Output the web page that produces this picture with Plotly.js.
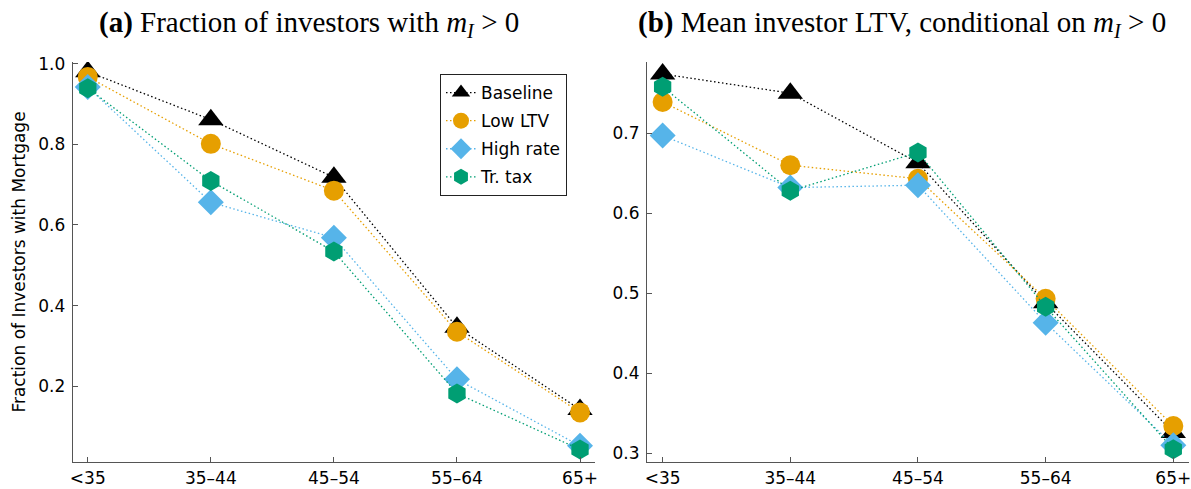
<!DOCTYPE html>
<html>
<head>
<meta charset="utf-8">
<script src="https://cdn.plot.ly/plotly-3.0.1.min.js"></script>
<style>html,body{margin:0;padding:0;background:#fff;}#chart{width:1191px;height:489px;}</style>
</head>
<body>
<div id="chart"></div>
<script>
// Categories (age groups)
const ageGroups = ["<35", "35–44", "45–54", "55–64", "65+"];

// Panel (a): Fraction of investors with mortgage
const fracBaseline = [0.980, 0.861, 0.718, 0.346, 0.142];
const fracLowLTV   = [0.967, 0.801, 0.685, 0.335, 0.135];
const fracHighRate = [0.942, 0.656, 0.568, 0.217, 0.052];
const fracTrTax    = [0.939, 0.709, 0.534, 0.182, 0.043];

// Panel (b): Mean investor LTV, conditional on m_I > 0
const ltvBaseline = [0.774, 0.750, 0.663, 0.488, 0.326];
const ltvLowLTV   = [0.739, 0.660, 0.643, 0.493, 0.334];
const ltvHighRate = [0.697, 0.632, 0.635, 0.463, 0.310];
const ltvTrTax    = [0.758, 0.628, 0.676, 0.483, 0.305];

const seriesNames = ["Baseline", "Low LTV", "High rate", "Tr. tax"];
const seriesColors = ["#000000", "#E69F00", "#56B4E9", "#009E73"];
const seriesSymbols = ["triangle-up", "circle", "diamond", "hexagon"];
const seriesSizes = [22, 20, 20, 20];

const fracData = [fracBaseline, fracLowLTV, fracHighRate, fracTrTax];
const ltvData = [ltvBaseline, ltvLowLTV, ltvHighRate, ltvTrTax];

const traces = [];
function addPanel(dataArr, xa, ya, showLegend) {
  dataArr.forEach((vals, i) => {
    traces.push({
      type: "scatter", mode: "lines+markers",
      x: ageGroups, y: vals, xaxis: xa, yaxis: ya,
      name: seriesNames[i], showlegend: showLegend, legendgroup: "g" + i,
      line: {color: seriesColors[i], dash: "1.5px,2.5px", width: 1.3},
      marker: {color: seriesColors[i], symbol: seriesSymbols[i], size: seriesSizes[i], line: {width: 0}},
      hoverinfo: "skip"
    });
  });
}
addPanel(fracData, "x", "y", true);
addPanel(ltvData, "x2", "y2", false);

const tickFont = "DejaVu Sans";
const axisCommon = {
  showgrid: false, zeroline: false, showline: true,
  linecolor: "rgb(85,85,85)", linewidth: 1.3,
  ticks: "inside", ticklen: 5, tickwidth: 1, tickcolor: "rgb(85,85,85)",
  tickfont: {family: tickFont, size: 17, color: "#000"},
  mirror: false, fixedrange: true
};
const yAxisExtra = {ticklabelstandoff: 3};
const xAxisExtra = {ticklabelstandoff: 0};

const titleFont = {family: "Liberation Serif", size: 29, color: "#000"};

const layout = {
  width: 1191, height: 489,
  margin: {l: 0, r: 0, t: 62, b: 27},
  paper_bgcolor: "#fff", plot_bgcolor: "#fff",
  font: {family: tickFont, color: "#000"},
  xaxis: Object.assign({}, axisCommon, xAxisExtra, {domain: [0.0613, 0.4994], type: "category", range: [-0.12, 4.12], anchor: "y"}),
  yaxis: Object.assign({}, axisCommon, yAxisExtra, {domain: [0, 1], range: [0.012, 1.004], tickvals: [0.2, 0.4, 0.6, 0.8, 1.0], ticktext: ["0.2", "0.4", "0.6", "0.8", "1.0"], anchor: "x",
    title: {text: "Fraction of Investors with Mortgage", font: {family: tickFont, size: 17, color: "#000"}, standoff: 8}}),
  xaxis2: Object.assign({}, axisCommon, xAxisExtra, {domain: [0.5435, 0.998], type: "category", range: [-0.12, 4.12], anchor: "y2"}),
  yaxis2: Object.assign({}, axisCommon, yAxisExtra, {domain: [0, 1], range: [0.289, 0.789], tickvals: [0.3, 0.4, 0.5, 0.6, 0.7], ticktext: ["0.3", "0.4", "0.5", "0.6", "0.7"], anchor: "x2"}),
  showlegend: true,
  legend: {
    x: 440/1191, y: (462-74)/400, xref: "paper", yref: "paper", xanchor: "left", yanchor: "top",
    bgcolor: "#fff", bordercolor: "#222", borderwidth: 1,
    font: {family: tickFont, size: 17, color: "#000"},
    traceorder: "grouped", tracegroupgap: 3
  },
  annotations: [
    {text: "<b>(a)</b> Fraction of investors with <i>m</i><sub><i>I</i></sub> &gt; 0", xref: "paper", yref: "paper",
     x: 309/1191, y: 1, yshift: 38, xanchor: "center", yanchor: "middle", showarrow: false, font: titleFont},
    {text: "<b>(b)</b> Mean investor LTV, conditional on <i>m</i><sub><i>I</i></sub> &gt; 0", xref: "paper", yref: "paper",
     x: 902/1191, y: 1, yshift: 38, xanchor: "center", yanchor: "middle", showarrow: false, font: titleFont}
  ]
};

Plotly.newPlot("chart", traces, layout, {staticPlot: true, displayModeBar: false});
</script>
</body>
</html>
